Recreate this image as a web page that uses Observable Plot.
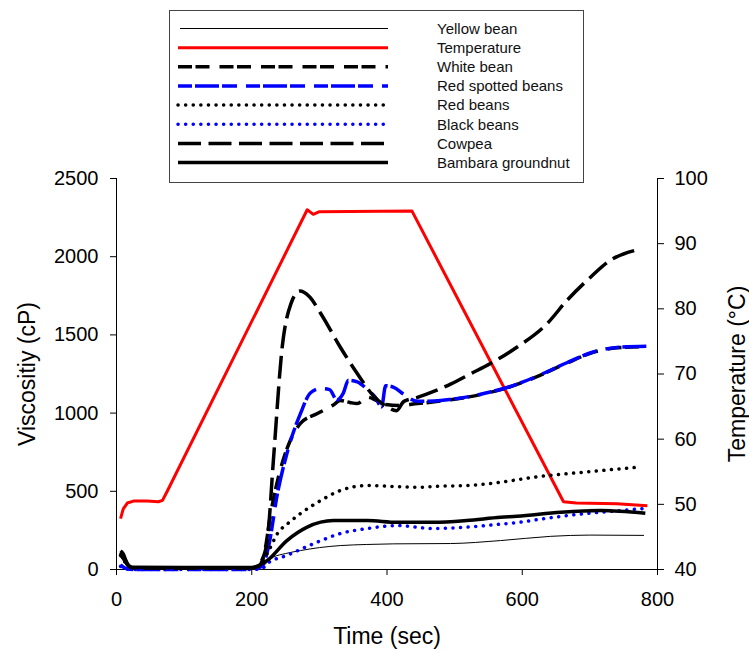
<!DOCTYPE html>
<html>
<head>
<meta charset="utf-8">
<script src="https://cdn.jsdelivr.net/npm/d3@7"></script>
<script src="https://cdn.jsdelivr.net/npm/@observablehq/plot@0.6"></script>
<style>
  html, body { margin: 0; padding: 0; background: #fff; }
  #wrap { position: relative; width: 749px; height: 651px; font-family: "Liberation Sans", Arial, sans-serif; }
  #legend { position: absolute; left: 169px; top: 10px; width: 415px; height: 173px; box-sizing: border-box;
            border: 1.5px solid #444; background: #fff; }
  #legend svg { position: absolute; left: 0; top: 0; }
</style>
</head>
<body>
<div id="wrap"><div id="chart"></div><div id="legend"></div></div>
<script>
// ---- data (time in s, viscosity in cP, temperature in °C) ----
const xTicks = [0, 200, 400, 600, 800];
const viscTicks = [0, 500, 1000, 1500, 2000, 2500];
const tempTicks = [40, 50, 60, 70, 80, 90, 100];

const seriesNames = ["Yellow bean", "Temperature", "White bean", "Red spotted beans", "Red beans", "Black beans", "Cowpea", "Bambara groundnut"];

const yellowBean = [[6,80],[12,45],[18,15],[25,6],[100,4],[200,5],[215,20],[232,79],[250,102],[272,121],[300,140],[331,153],[370,160],[410,164],[494,166],[568,185],[642,212],[700,220],[780,218]];

const temperature = [[6,47.8],[10,49.3],[16,50.2],[25,50.5],[45,50.5],[62,50.4],[68,50.6],[75,52.0],[282,95.2],[291,94.5],[300,94.9],[437,95.0],[661,50.4],[680,50.2],[740,50.1],[785,49.8]];

const whiteBean = [[6,100],[12,60],[18,20],[25,10],[100,8],[200,6],[210,20],[218,90],[228,358],[240,600],[257,825],[272,934],[297,997],[320,1050],[331,1080],[345,1068],[356,1061],[371,1102],[385,1080],[398,1055],[420,1049],[445,1061],[470,1072],[494,1085],[540,1120],[580,1165],[620,1230],[666,1320],[706,1390],[740,1418],[785,1426]];

const redSpotted = [[6,30],[15,5],[25,0],[200,0],[215,20],[225,150],[238,486],[252,742],[272,997],[287,1130],[302,1157],[315,1150],[326,1085],[335,1125],[343,1210],[356,1200],[371,1150],[383,1100],[392,1040],[398,1175],[410,1165],[425,1120],[445,1075],[470,1077],[494,1087],[540,1122],[580,1167],[620,1232],[666,1322],[706,1392],[740,1420],[785,1428]];

const redBeans = [[6,90],[12,50],[18,15],[25,8],[200,8],[210,20],[225,120],[238,230],[255,300],[272,358],[302,441],[331,505],[371,537],[410,531],[445,526],[480,533],[518,537],[568,558],[617,590],[690,622],[772,654]];

const blackBeans = [[6,20],[15,3],[25,0],[200,0],[215,5],[223,38],[252,90],[292,166],[331,230],[371,262],[415,281],[469,262],[518,271],[568,290],[592,300],[640,330],[690,356],[740,375],[780,390]];

const cowpea = [[6,110],[12,70],[18,25],[25,10],[100,8],[200,10],[208,20],[215,60],[223,185],[232,697],[245,1421],[258,1700],[271,1780],[285,1745],[302,1637],[331,1421],[356,1253],[380,1110],[400,1040],[414,1015],[425,1075],[445,1100],[470,1140],[494,1185],[523,1250],[553,1317],[592,1421],[637,1573],[666,1720],[701,1869],[730,1976],[770,2044]];

const bambara = [[6,120],[10,100],[16,35],[22,15],[100,12],[200,12],[210,25],[223,58],[252,185],[282,271],[321,313],[371,313],[415,302],[469,302],[518,313],[568,334],[592,340],[657,366],[716,377],[782,360]];

// ---- styles ----
const styles = [
  {data: yellowBean, stroke: "#000", strokeWidth: 1, dash: null, cap: "butt"},
  {data: temperature, stroke: "#ff0000", strokeWidth: 3, dash: null, cap: "butt", temp: true},
  {data: whiteBean, stroke: "#000", strokeWidth: 3.5, dash: "14,3.5,14,10", cap: "butt"},
  {data: redSpotted, stroke: "#0000ff", strokeWidth: 3.5, dash: "14,3,24,3,15,9", cap: "butt"},
  {data: redBeans, stroke: "#000", strokeWidth: 3.5, dash: "0.1,7.5", cap: "round"},
  {data: blackBeans, stroke: "#0000ff", strokeWidth: 3.5, dash: "0.1,7.5", cap: "round"},
  {data: cowpea, stroke: "#000", strokeWidth: 3.5, dash: "23,7.5", cap: "butt"},
  {data: bambara, stroke: "#000", strokeWidth: 3.5, dash: null, cap: "butt"}
];

const toV = t => (t - 40) / 60 * 2500;   // temperature -> viscosity-scale position
const fromV = v => Math.round(v / 2500 * 60 + 40);

const font = "Liberation Sans, Arial, sans-serif";

const lineMarks = styles.map(s => Plot.line(s.data, {
  x: d => d[0],
  y: s.temp ? (d => toV(d[1])) : (d => d[1]),
  stroke: s.stroke,
  strokeWidth: s.strokeWidth,
  strokeDasharray: s.dash,
  strokeLinecap: s.cap,
  curve: s.temp ? "linear" : "monotone-x"
}));

const chart = Plot.plot({
  width: 749,
  height: 651,
  marginLeft: 116,
  marginRight: 92,
  marginTop: 178,
  marginBottom: 82,
  style: {fontFamily: font, color: "#000", background: "transparent"},
  x: {domain: [0, 800]},
  y: {domain: [0, 2500]},
  marks: [
    Plot.axisX({ticks: xTicks, tickSize: 6, tickPadding: 16, fontSize: 20, label: null, tickFormat: d => String(d)}),
    Plot.axisY({ticks: viscTicks, tickSize: 6, tickPadding: 12, fontSize: 20, label: null, tickFormat: d => String(d)}),
    Plot.axisY(tempTicks.map(toV), {anchor: "right", tickSize: 6, tickPadding: 11, fontSize: 20, label: null, tickFormat: v => String(fromV(v))}),
    Plot.ruleY([0], {x1: 0, x2: 800, stroke: "#000", strokeWidth: 1}),
    Plot.ruleX([0], {y1: 0, y2: 2500, stroke: "#000", strokeWidth: 1}),
    Plot.ruleX([800], {y1: 0, y2: 2500, stroke: "#000", strokeWidth: 1}),
    ...lineMarks,
    Plot.text(["Viscositiy (cP)"], {frameAnchor: "left", dx: -89, rotate: -90, fontSize: 23, textAnchor: "middle", lineAnchor: "middle"}),
    Plot.text(["Temperature (°C)"], {frameAnchor: "right", dx: 80, rotate: -90, fontSize: 23, textAnchor: "middle", lineAnchor: "middle"}),
    Plot.text(["Time (sec)"], {frameAnchor: "bottom", dy: 67, fontSize: 23, textAnchor: "middle", lineAnchor: "middle"})
  ]
});
document.getElementById("chart").appendChild(chart);

// ---- legend ----
const legend = d3.select("#legend");
const lsvg = legend.append("svg").attr("width", 412).attr("height", 170);
seriesNames.forEach((name, i) => {
  const s = styles[i];
  const y = 17.5 + i * 19.15;
  lsvg.append("line")
    .attr("x1", i === 0 ? 10 : 8).attr("x2", 218)
    .attr("y1", y).attr("y2", y)
    .attr("stroke", s.stroke)
    .attr("stroke-width", s.strokeWidth)
    .attr("stroke-linecap", s.cap)
    .attr("stroke-dasharray", s.dash);
  lsvg.append("text")
    .attr("x", 267).attr("y", y)
    .attr("dy", "0.35em")
    .attr("font-size", 15)
    .attr("font-family", font)
    .attr("fill", "#111")
    .text(name);
});
</script>
</body>
</html>
